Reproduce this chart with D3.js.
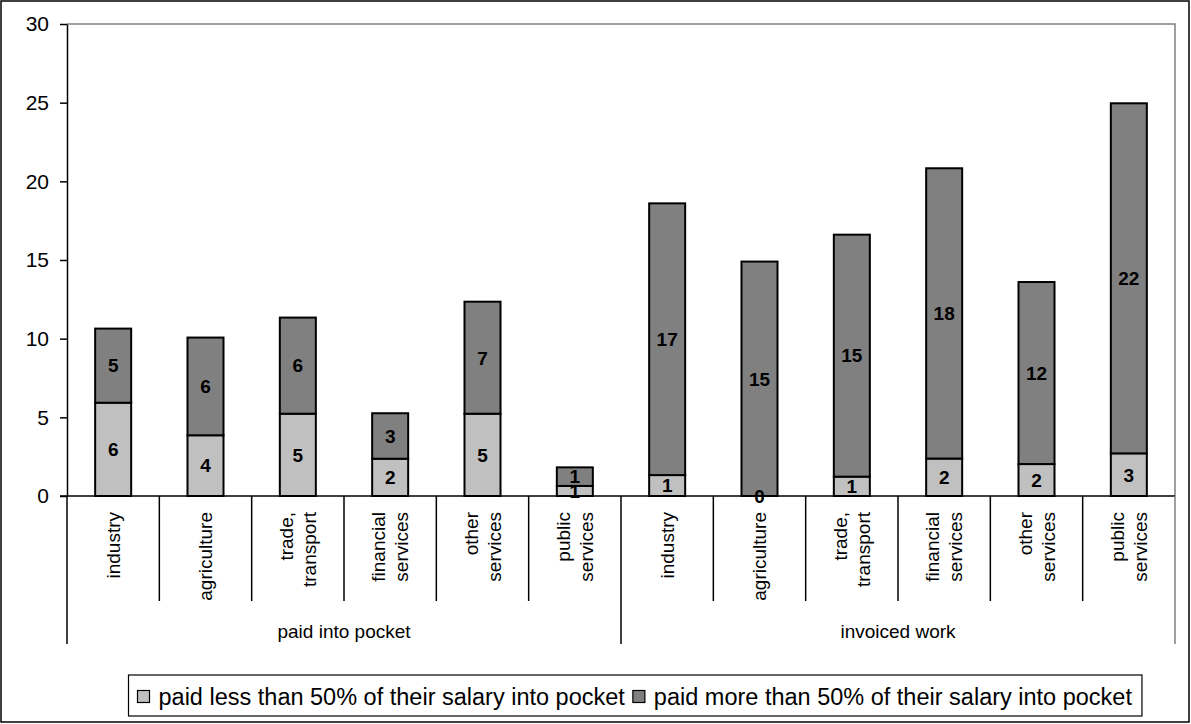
<!DOCTYPE html>
<html>
<head>
<meta charset="utf-8">
<script src="https://cdn.jsdelivr.net/npm/d3@7/dist/d3.min.js"></script>
<style>
  html, body { margin: 0; padding: 0; background: #fff; }
  svg { display: block; font-family: Arial, "Liberation Sans", sans-serif; }
</style>
</head>
<body>
<svg id="chart" width="1191" height="724"></svg>
<script>
// Sector categories (each line of a label is drawn on its own row)
const categoryLines = [
  ["industry"],
  ["agriculture"],
  ["trade,", "transport"],
  ["financial", "services"],
  ["other", "services"],
  ["public", "services"]
];
const groups = ["paid into pocket", "invoiced work"];

// Shares per sector, split by how much of the salary was paid into pocket
const lessPocket     = [5.93, 3.86, 5.23, 2.37, 5.23, 0.64];
const morePocket     = [4.71, 6.21, 6.11, 2.89, 7.12, 1.18];
const lessInvoiced   = [1.33, 0.00, 1.23, 2.38, 2.03, 2.71];
const moreInvoiced   = [17.27, 14.90, 15.38, 18.45, 11.57, 22.25];

const seriesNames = [
  "paid less than 50% of their salary into pocket",
  "paid more than 50% of their salary into pocket"
];
const seriesColors = ["#C0C0C0", "#808080"];
const yTicks = [0, 5, 10, 15, 20, 25, 30];

// Build the table of rows: one row per (group, sector)
const rows = [];
groups.forEach((g, gi) => {
  const less = gi === 0 ? lessPocket : lessInvoiced;
  const more = gi === 0 ? morePocket : moreInvoiced;
  categoryLines.forEach((lines, ci) => {
    rows.push({ key: g + "|" + ci, group: g, lines, less: less[ci], more: more[ci] });
  });
});

const svg = d3.select("#chart");
const W = 1191, H = 724;
const plot = { left: 67, right: 1175, top: 24, bottom: 496 };

// Outer chart frame
svg.append("rect")
  .attr("x", 1).attr("y", 1).attr("width", W - 3).attr("height", H - 3)
  .attr("fill", "#fff").attr("stroke", "#000").attr("stroke-width", 1.5);

const x = d3.scaleBand()
  .domain(rows.map(r => r.key))
  .range([plot.left, plot.right])
  .paddingInner(0).paddingOuter(0);

const y = d3.scaleLinear().domain([0, 30]).range([plot.bottom, plot.top]);

// Plot-area border (top and right edges)
svg.append("path")
  .attr("d", `M${plot.left},${plot.top}H${plot.right}V${plot.bottom}`)
  .attr("fill", "none").attr("stroke", "#808080").attr("stroke-width", 1.5);

// Stacked bars
const stack = d3.stack().keys(["less", "more"]);
const layers = stack(rows);
const barW = x.bandwidth() * 0.39;

const layerG = svg.append("g").selectAll("g")
  .data(layers).join("g")
  .attr("fill", (d, i) => seriesColors[i]);

layerG.selectAll("rect")
  .data(d => d)
  .join("rect")
  .attr("x", d => x(d.data.key) + (x.bandwidth() - barW) / 2)
  .attr("y", d => y(d[1]))
  .attr("width", barW)
  .attr("height", d => y(d[0]) - y(d[1]))
  .attr("stroke", "#000")
  .attr("stroke-width", 2);

// Value labels centred in each segment
layers.forEach((layer, li) => {
  svg.append("g").selectAll("text")
    .data(layer).join("text")
    .attr("x", d => x(d.data.key) + x.bandwidth() / 2)
    .attr("y", d => (y(d[0]) + y(d[1])) / 2)
    .attr("dy", "0.36em")
    .attr("text-anchor", "middle")
    .attr("font-weight", "bold")
    .attr("font-size", 19)
    .attr("fill", "#000")
    .text(d => d3.format(".0f")(d[1] - d[0]));
});

// Y axis
const yAxis = d3.axisLeft(y).tickValues(yTicks).tickSize(7).tickPadding(11).tickSizeOuter(0);
const yg = svg.append("g").attr("transform", `translate(${plot.left},0)`).call(yAxis);
yg.select(".domain").attr("stroke", "#000").attr("stroke-width", 1.5);
yg.selectAll(".tick line").attr("stroke", "#000").attr("stroke-width", 1.5);
yg.selectAll(".tick text")
  .attr("font-size", 21).attr("fill", "#000")
  .attr("font-family", "Arial, 'Liberation Sans', sans-serif");

// Baseline
svg.append("line")
  .attr("x1", plot.left - 7).attr("x2", plot.right)
  .attr("y1", plot.bottom).attr("y2", plot.bottom)
  .attr("stroke", "#000").attr("stroke-width", 1.5);

// Category separators below the baseline
const catSepBottom = 601, groupSepBottom = 644;
const boundaries = rows.map(r => x(r.key)).concat([plot.right]);
svg.append("g").selectAll("line")
  .data(boundaries).join("line")
  .attr("x1", d => d).attr("x2", d => d)
  .attr("y1", plot.bottom)
  .attr("y2", (d, i) => (i % categoryLines.length === 0) ? groupSepBottom : catSepBottom)
  .attr("stroke", (d, i) => i === boundaries.length - 1 ? "#808080" : "#000")
  .attr("stroke-width", 1.5);

// Rotated sector labels
const lineGap = 23;
const catG = svg.append("g").selectAll("g")
  .data(rows).join("g")
  .attr("transform", d => `translate(${x(d.key) + x.bandwidth() / 2},512)`);
catG.each(function (d) {
  const n = d.lines.length;
  d3.select(this).selectAll("text")
    .data(d.lines).join("text")
    .attr("transform", (t, i) => `translate(${(i - (n - 1) / 2) * lineGap},0) rotate(-90)`)
    .attr("text-anchor", "end")
    .attr("dy", "0.35em")
    .attr("font-size", 19)
    .attr("fill", "#000")
    .text(t => t);
});

// Group labels
svg.append("g").selectAll("text")
  .data(groups).join("text")
  .attr("x", (g, gi) => {
    const first = x(g + "|0");
    const last = x(g + "|" + (categoryLines.length - 1)) + x.bandwidth();
    return (first + last) / 2;
  })
  .attr("y", 631)
  .attr("dy", "0.35em")
  .attr("text-anchor", "middle")
  .attr("font-size", 19)
  .attr("fill", "#000")
  .text(g => g);

// Legend
const legend = svg.append("g");
const legX = 128.5, legY = 675, legH = 41, sw = 12;
const items = legend.selectAll("g").data(seriesNames).join("g");
items.append("rect")
  .attr("width", sw).attr("height", sw)
  .attr("y", legY + legH / 2 - sw / 2 + 1)
  .attr("fill", (d, i) => seriesColors[i])
  .attr("stroke", "#000").attr("stroke-width", 1.2);
items.append("text")
  .attr("y", legY + legH / 2 + 1)
  .attr("dy", "0.35em")
  .attr("font-size", 23.5)
  .attr("fill", "#000")
  .text(d => d);
let cx = legX + 9;
items.each(function () {
  const g = d3.select(this);
  g.select("rect").attr("x", cx);
  g.select("text").attr("x", cx + sw + 9);
  cx += sw + 9 + g.select("text").node().getComputedTextLength() + 8;
});
legend.insert("rect", ":first-child")
  .attr("x", legX).attr("y", legY)
  .attr("width", cx - legX + 2).attr("height", legH)
  .attr("fill", "#fff").attr("stroke", "#000").attr("stroke-width", 1.2);
</script>
</body>
</html>
